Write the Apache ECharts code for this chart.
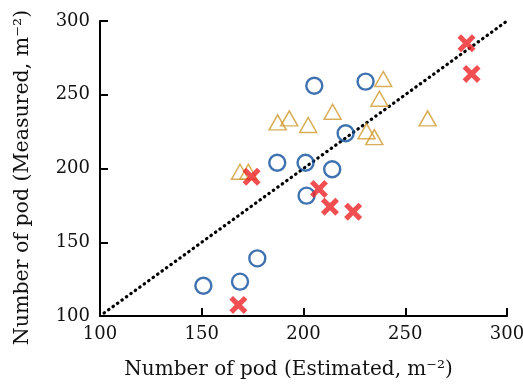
<!DOCTYPE html>
<html><head><meta charset="utf-8">
<script src="https://cdn.jsdelivr.net/npm/echarts@6/dist/echarts.min.js"></script>
<style>html,body{margin:0;padding:0;background:#fff}#c{width:523px;height:387px}</style>
</head><body><div id="c"></div>
<script>
const xTicks = [100, 150, 200, 250, 300];
const yTicks = [100, 150, 200, 250, 300];
const circleX = [150.8, 168.8, 177.3, 187.1, 201.0, 201.5, 214.1, 205.3, 220.7, 230.5];
const circleY = [120.5, 123.3, 139.1, 203.9, 203.9, 181.6, 199.5, 256.1, 223.9, 258.9];
const triX = [168.8, 172.9, 187.3, 193.0, 202.3, 214.3, 231.0, 234.8, 237.3, 239.2, 261.0];
const triY = [197.8, 197.8, 231.3, 234.0, 229.5, 238.5, 225.3, 221.3, 247.3, 260.7, 234.0];
const crossX = [168.0, 174.5, 207.6, 213.0, 224.4, 280.1, 282.6];
const crossY = [107.5, 194.4, 186.1, 174.1, 170.7, 284.9, 264.1];
const lineX = [102, 300];
const lineY = [102, 300];

const zip = (a, b) => a.map((v, i) => [v, b[i]]);
const font = '"DejaVu Serif", "Liberation Serif", serif';
const chart = echarts.init(document.getElementById('c'), null, {renderer: 'canvas'});
const axisCommon = {
  type: 'value', min: 100, max: 300, interval: 50,
  axisLine: {show: true, onZero: false, lineStyle: {color: '#000', width: 2}},
  axisTick: {show: true, inside: true, length: 8, lineStyle: {color: '#000', width: 2}},
  splitLine: {show: false},
  axisLabel: {color: '#111', fontFamily: font, fontSize: 18},
  nameLocation: 'middle'
};
chart.setOption({
  animation: false,
  grid: {left: 100, right: 16, top: 21, bottom: 71, outerBoundsMode: 'none', containLabel: false},
  xAxis: Object.assign({}, axisCommon, {name: 'Number of pod (Estimated, m⁻²)', nameGap: 44,
    nameTextStyle: {color: '#111', fontFamily: font, fontSize: 20, padding: [0, 30, 0, 0]},
    axisLabel: Object.assign({}, axisCommon.axisLabel, {margin: 9, formatter: v => xTicks.includes(v) ? String(v) : ''})}),
  yAxis: Object.assign({}, axisCommon, {name: 'Number of pod (Measured, m⁻²)', nameGap: 67,
    nameTextStyle: {color: '#111', fontFamily: font, fontSize: 20.5, padding: [0, 18, 0, 0]},
    axisLabel: Object.assign({}, axisCommon.axisLabel, {margin: 10, formatter: v => yTicks.includes(v) ? String(v) : ''})}),
  series: [
    {type: 'line', data: zip(lineX, lineY), symbol: 'none', z: 1,
      lineStyle: {color: '#000', width: 3.2, type: [0.5, 5], cap: 'round'}},
    {type: 'scatter', data: zip(triX, triY), symbol: 'triangle', symbolSize: [17, 15], z: 2,
      itemStyle: {color: 'rgba(0,0,0,0)', borderColor: '#d09a2e', borderWidth: 1.5}},
    {type: 'scatter', data: zip(circleX, circleY), symbol: 'circle', symbolSize: 16, z: 3,
      itemStyle: {color: 'rgba(0,0,0,0)', borderColor: '#0f4f9c', borderWidth: 2.4}},
    {type: 'scatter', data: zip(crossX, crossY), z: 4,
      symbol: 'path://M2,0 L5,3 L8,0 L10,2 L7,5 L10,8 L8,10 L5,7 L2,10 L0,8 L3,5 L0,2 Z',
      symbolSize: 18, itemStyle: {color: '#ee2225'}}
  ]
});
</script></body></html>
